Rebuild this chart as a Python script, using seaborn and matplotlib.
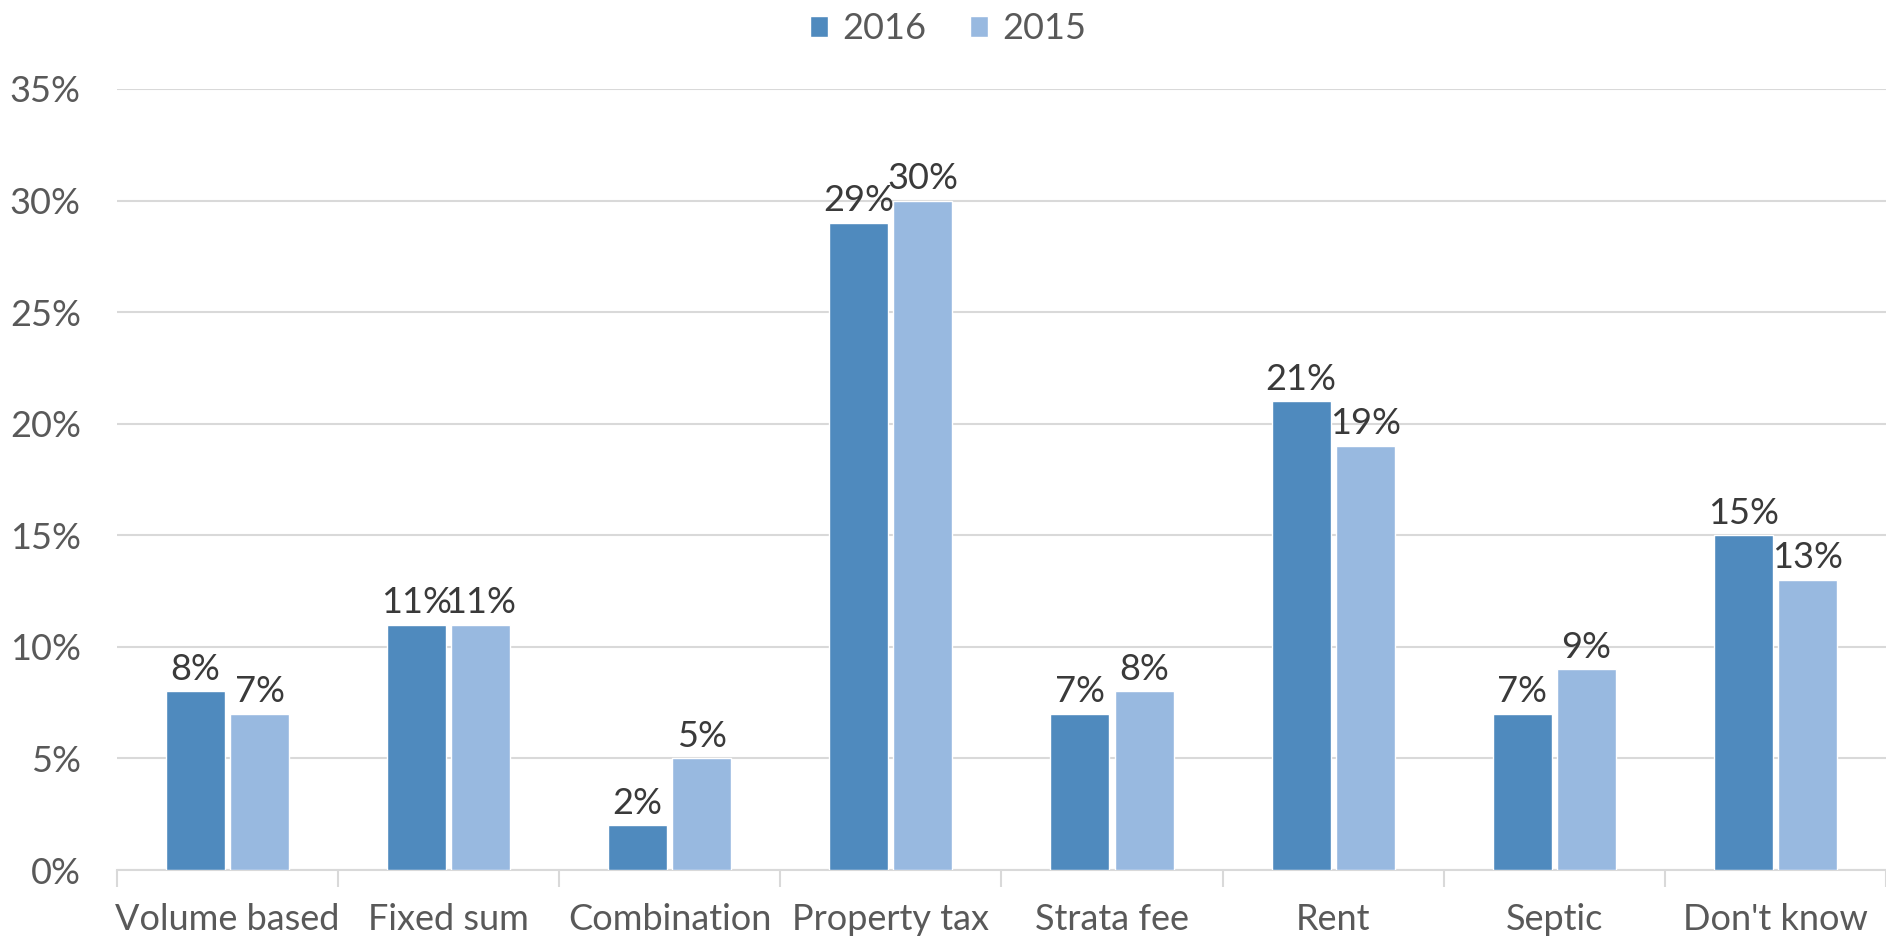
import numpy as np
import pandas as pd
import matplotlib
matplotlib.use("Agg")
import matplotlib.pyplot as plt
import seaborn as sns
from matplotlib.ticker import FixedLocator, PercentFormatter

# ── data ──────────────────────────────────────────────────────────────
categories = ["Volume based", "Fixed sum", "Combination", "Property tax",
              "Strata fee", "Rent", "Septic", "Don't know"]
years = ["2016", "2015"]
share_2016 = [8, 11, 2, 29, 7, 21, 7, 15]
share_2015 = [7, 11, 5, 30, 8, 19, 9, 13]
yticks = [0, 5, 10, 15, 20, 25, 30, 35]

df = pd.DataFrame({
    "category": categories * 2,
    "year": [years[0]] * len(categories) + [years[1]] * len(categories),
    "share": share_2016 + share_2015,
})

sns.set_theme(style="white")
plt.rcParams["font.family"] = ["Lato", "DejaVu Sans"]

fig = plt.figure(figsize=(18.86, 9.36), dpi=100)
ax = fig.add_axes([0.062, 0.0705, 0.938, 0.8345])

palette = {"2016": "#4F8ABE", "2015": "#98B9E0"}
sns.barplot(data=df, x="category", y="share", hue="year", hue_order=years,
            palette=palette, width=0.58, gap=0.08, saturation=1,
            ax=ax, zorder=3)

# value labels on top of each bar
for cont in ax.containers:
    ax.bar_label(cont, labels=[f"{v:.0f}%" for v in cont.datavalues],
                 padding=4, fontsize=26, color="#3A3A3A")

ax.set_ylim(0, 35)
ax.set_xlim(-0.5, len(categories) - 0.5)
ax.set_yticks(yticks)
ax.yaxis.set_major_formatter(PercentFormatter(decimals=0))
ax.grid(axis="y", color="#D9D9D9", linewidth=1.5, zorder=0)
ax.set_xlabel("")
ax.set_ylabel("")

for side in ["top", "right", "left"]:
    ax.spines[side].set_visible(False)
ax.spines["bottom"].set_color("#D9D9D9")
ax.spines["bottom"].set_linewidth(1.5)

# tick marks between categories, like the original
ax.xaxis.set_minor_locator(FixedLocator(np.arange(-0.5, len(categories), 1)))
ax.tick_params(axis="x", which="minor", length=12, width=1.5,
               color="#D9D9D9", bottom=True)
ax.tick_params(axis="x", which="major", length=0, pad=24,
               labelsize=26, labelcolor="#595959")
ax.tick_params(axis="y", length=0, pad=26, labelsize=26,
               labelcolor="#595959")

leg = ax.legend(loc="upper center", bbox_to_anchor=(0.47, 1.14), ncol=2,
                frameon=False, fontsize=26, handlelength=0.5,
                handleheight=0.5, handletextpad=0.4, columnspacing=1.2)
for t in leg.get_texts():
    t.set_color("#595959")

fig.savefig("out.png", dpi=100)
plt.close()
